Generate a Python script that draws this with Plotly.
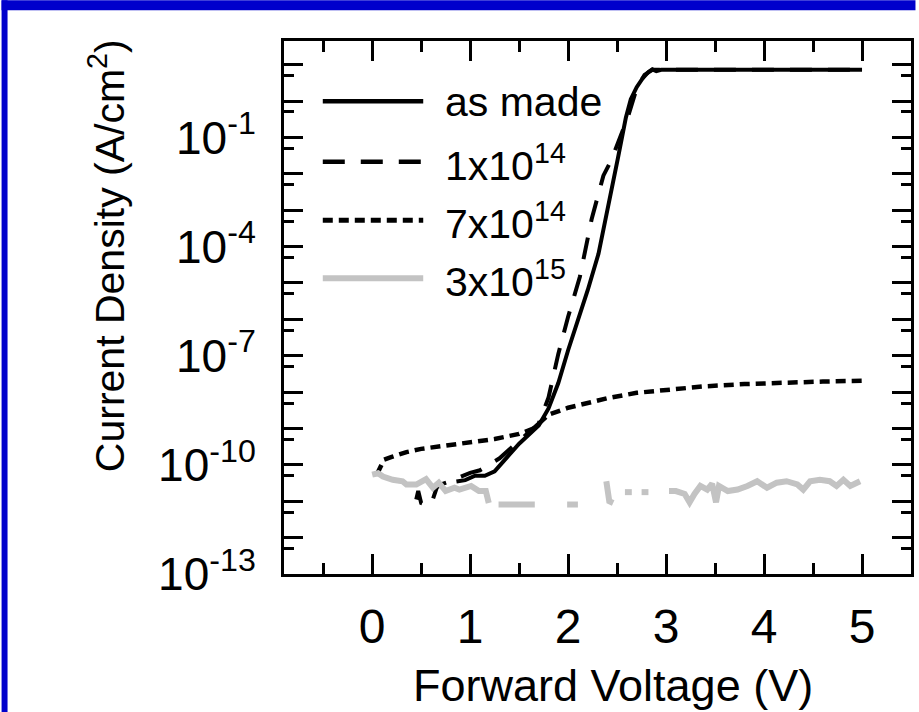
import plotly.graph_objects as go

# ---------------- data (log10 of current density, A/cm^2) ----------------
v_asmade = [0.86, 0.95, 1.05, 1.15, 1.25, 1.32, 1.40, 1.50, 1.60, 1.70, 1.80, 1.90, 2.00, 2.10, 2.20, 2.31,
            2.40, 2.51, 2.59, 2.64, 2.70, 2.76, 2.82, 2.86, 2.90, 2.95, 3.5, 4.0, 4.5, 5.0]
logj_asmade = [-10.46, -10.42, -10.30, -10.30, -10.18, -9.95, -9.72, -9.42, -9.18, -8.92, -8.45, -7.75, -6.85, -6.05, -5.20, -4.20,
               -3.05, -1.55, -0.45, 0.05, 0.38, 0.62, 0.80, 0.87, 0.82, 0.86, 0.86, 0.86, 0.86, 0.86]

v_1e14 = [0.45, 0.47, 0.50, 0.55, 0.60, 0.66, 0.72, 0.80, 0.90, 1.00, 1.10, 1.20, 1.30, 1.40, 1.50, 1.60, 1.70,
          1.80, 1.90, 2.00, 2.12, 2.24, 2.36, 2.44, 2.49, 2.61, 2.70, 2.78, 2.86, 2.95, 4.0, 5.0]
logj_1e14 = [-10.95, -10.72, -11.05, -11.10, -11.10, -10.62, -10.52, -10.45, -10.33, -10.22, -10.15, -10.00, -9.82, -9.58, -9.33, -9.10, -8.86,
             -8.15, -6.95, -5.93, -4.83, -3.25, -2.05, -1.63, -1.26, -0.44, 0.35, 0.72, 0.86, 0.86, 0.86, 0.86]

v_7e14 = [0.05, 0.12, 0.20, 0.35, 0.50, 0.75, 1.00, 1.25, 1.50, 1.65, 1.80, 2.00, 2.20, 2.40, 2.70, 3.00, 3.40, 3.80, 4.20, 4.60, 5.00]
logj_7e14 = [-10.25, -9.86, -9.78, -9.65, -9.56, -9.47, -9.38, -9.29, -9.15, -9.00, -8.62, -8.43, -8.30, -8.17, -8.02, -7.93, -7.84, -7.78, -7.73, -7.71, -7.69]

v_3e15 = [0.00, 0.06, 0.11, 0.21, 0.31, 0.35, 0.45, 0.55, 0.62, 0.68, 0.75, 0.84, 0.89, 1.01, 1.09, 1.16, 1.19, None,
          1.29, 1.45, 1.66, None,
          1.99, 2.10, None,
          2.39, 2.42, 2.46, None,
          2.58, 2.65, None,
          2.75, 2.82, None,
          3.03, 3.10, 3.19, 3.24, 3.29, 3.35, 3.42, 3.47, 3.51, 3.54, 3.63, 3.73, 3.83, 3.93, 4.03, 4.13, 4.23, 4.34,
          4.40, 4.47, 4.57, 4.67, 4.74, 4.81, 4.88, 4.98]
logj_3e15 = [-10.27, -10.23, -10.32, -10.41, -10.45, -10.54, -10.54, -10.39, -10.63, -10.49, -10.72, -10.63, -10.68, -10.58, -10.72, -10.72, -11.05, None,
             -11.09, -11.09, -11.09, None,
             -11.09, -11.09, None,
             -10.45, -11.00, -11.05, None,
             -10.75, -10.75, None,
             -10.75, -10.75, None,
             -10.72, -10.72, -10.80, -11.03, -10.80, -10.58, -10.68, -10.52, -11.03, -10.58, -10.72, -10.68, -10.58, -10.45, -10.63, -10.49, -10.45, -10.54,
             -10.68, -10.45, -10.41, -10.45, -10.58, -10.41, -10.58, -10.45]

series_names = ["as made", "1x10<sup>14</sup>", "7x10<sup>14</sup>", "3x10<sup>15</sup>"]
x_ticks = [0, 1, 2, 3, 4, 5]
x_minor = [-0.5, 0.5, 1.5, 2.5, 3.5, 4.5]
y_decades = list(range(-13, 2))
y_labeled = [-13, -10, -7, -4, -1]

def to_j(vals):
    return [None if v is None else 10 ** v for v in vals]

# ---------------- styling ----------------
FONT = "Liberation Sans, Arial, Helvetica, sans-serif"
BLACK = "#000000"
GRAY = "#c3c3c3"
styles = [
    dict(color=BLACK, width=4, dash="solid"),
    dict(color=BLACK, width=4, dash="22px,16px"),
    dict(color=BLACK, width=4.5, dash="10px,6px"),
    dict(color=GRAY, width=6, dash="solid"),
]

W, H = 919, 712
PL, PR, PT, PB = 284, 914.5, 40.7, 574.0  # plot box in pixels

def px(xp):
    return (xp - PL) / (PR - PL)

def py(yp):
    return (PB - yp) / (PB - PT)

fig = go.Figure()
data = [(v_asmade, logj_asmade), (v_1e14, logj_1e14), (v_7e14, logj_7e14), (v_3e15, logj_3e15)]
for (xs, ys), name, st in zip(data, series_names, styles):
    fig.add_trace(go.Scatter(x=xs, y=to_j(ys), mode="lines", name=name,
                             line=dict(color=st["color"], width=st["width"], dash=st["dash"]),
                             connectgaps=False, showlegend=False))

# ---------------- axes ----------------
fig.update_xaxes(range=[-0.9, 5.5], showgrid=False, zeroline=False,
                 showline=True, linecolor=BLACK, linewidth=3, mirror="ticks",
                 ticks="inside", ticklen=20, tickwidth=3, tickcolor=BLACK,
                 tickmode="array", tickvals=x_ticks, ticktext=[str(t) for t in x_ticks],
                 tickfont=dict(family=FONT, size=48, color=BLACK), ticklabelstandoff=8,
                 minor=dict(tickmode="array", tickvals=x_minor, ticks="inside", ticklen=11,
                            tickwidth=3, tickcolor=BLACK, showgrid=False))
fig.update_yaxes(type="log", range=[-13, 1.65], showgrid=False, zeroline=False,
                 showline=True, linecolor=BLACK, linewidth=3, mirror="ticks",
                 ticks="inside", ticklen=19, tickwidth=3, tickcolor=BLACK,
                 tickmode="array", tickvals=[10 ** d for d in y_decades],
                 ticktext=[("10<sup>%d</sup>" % d) if d in y_labeled else "" for d in y_decades],
                 tickfont=dict(family=FONT, size=46, color=BLACK), ticklabelstandoff=16,
                 minor=dict(tickmode="array", tickvals=[5 * 10 ** (d - 1) for d in y_decades[1:]],
                            ticks="inside", ticklen=10, tickwidth=3, tickcolor=BLACK, showgrid=False))

# ---------------- legend (drawn manually) ----------------
legend_rows = [101, 161.5, 220, 278]
shapes = []
annotations = []
for yrow, name, st in zip(legend_rows, series_names, styles):
    shapes.append(dict(type="line", xref="paper", yref="paper",
                       x0=px(323), x1=px(424), y0=py(yrow), y1=py(yrow),
                       line=dict(color=st["color"], width=st["width"] + (0.5 if st["color"] == BLACK else 0),
                                 dash=st["dash"])))
    annotations.append(dict(xref="paper", yref="paper", x=px(444), y=py(yrow + 1),
                            xanchor="left", yanchor="middle", showarrow=False, text=name,
                            font=dict(family=FONT, size=41, color=BLACK)))

# blue slide border
BLUE = "#0000cc"
shapes += [
    dict(type="rect", xref="paper", yref="paper", x0=px(0), x1=px(W), y0=py(10), y1=py(0),
         fillcolor=BLUE, line=dict(width=0), layer="above"),
    dict(type="rect", xref="paper", yref="paper", x0=px(0), x1=px(6), y0=py(H), y1=py(0),
         fillcolor=BLUE, line=dict(width=0), layer="above"),
]

# axis titles
annotations.append(dict(xref="paper", yref="paper", x=px(106), y=py(255), textangle=-90,
                        xanchor="center", yanchor="middle", showarrow=False,
                        text="Current Density (A/cm<sup>2</sup>)",
                        font=dict(family=FONT, size=41, color=BLACK)))
annotations.append(dict(xref="paper", yref="paper", x=px(615), y=py(686),
                        xanchor="center", yanchor="middle", showarrow=False,
                        text="Forward Voltage (V)",
                        font=dict(family=FONT, size=45, color=BLACK)))

fig.update_layout(width=W, height=H, autosize=False,
                  margin=dict(l=PL, r=W - PR, t=PT, b=H - PB, pad=0),
                  paper_bgcolor="white", plot_bgcolor="white",
                  shapes=shapes, annotations=annotations, showlegend=False)

fig.write_html("out.html")
